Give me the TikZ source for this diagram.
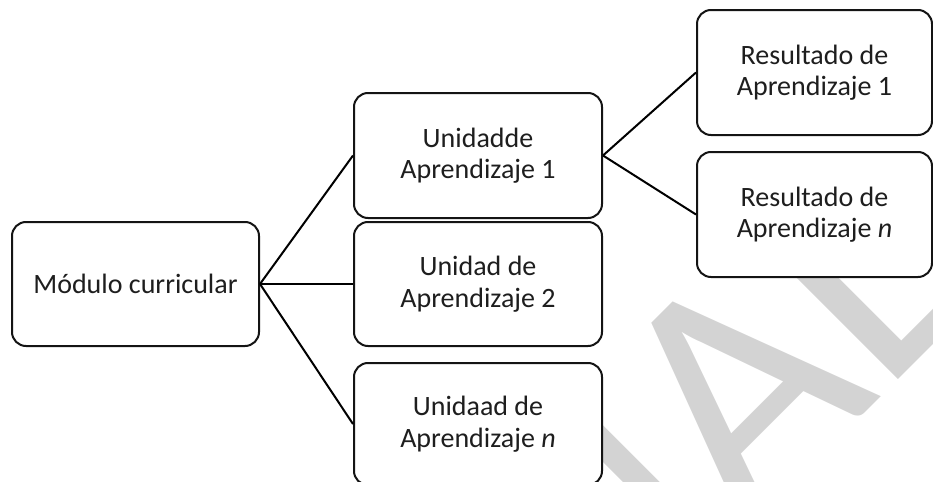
\documentclass[tikz,border=0pt]{standalone}
\usepackage{fontspec}
\setmainfont{Carlito}
\definecolor{wmgray}{RGB}{211,211,211}
\definecolor{ink}{RGB}{30,30,30}
\definecolor{edge}{RGB}{20,20,20}
\tikzset{
  box/.style={draw=edge, line width=1pt, rounded corners=7pt, fill=white,
    align=center, text=ink, inner sep=0pt,
    font=\fontsize{14}{15.75}\selectfont},
  link/.style={draw=black, line width=1pt},
  wm/.style={text=wmgray, rotate=45, inner sep=0pt, anchor=base,
    font=\fontsize{167}{167}\selectfont}
}
\begin{document}
\begin{tikzpicture}[x=0.5pt,y=-0.5pt]
\useasboundingbox (0,0) rectangle (933,482);
\clip (0,0) rectangle (933,482);
\node[wm] (mark) at (787,491) {NAL};
\node[box, minimum width=123.5pt, minimum height=62pt] (mod) at (135.5,284) {Módulo curricular};
\node[box, minimum width=124pt, minimum height=62.5pt] (u1) at (478,155.5) {Unidadde\\Aprendizaje 1};
\node[box, minimum width=124pt, minimum height=62pt] (u2) at (478,284) {Unidad de\\Aprendizaje 2};
\node[box, minimum width=124pt, minimum height=61pt] (u3) at (478,424) {Unidaad de\\Aprendizaje \textit{n}};
\node[box, minimum width=117.5pt, minimum height=62.5pt] (r1) at (814.5,72.5) {Resultado de\\Aprendizaje 1};
\node[box, minimum width=117.5pt, minimum height=62.5pt] (r2) at (814.5,214.5) {Resultado de\\Aprendizaje \textit{n}};
\draw[link] (mod.east) -- (u1.west);
\draw[link] (mod.east) -- (u2.west);
\draw[link] (mod.east) -- (u3.west);
\draw[link] (u1.east) -- (r1.west);
\draw[link] (u1.east) -- (r2.west);
\end{tikzpicture}
\end{document}
